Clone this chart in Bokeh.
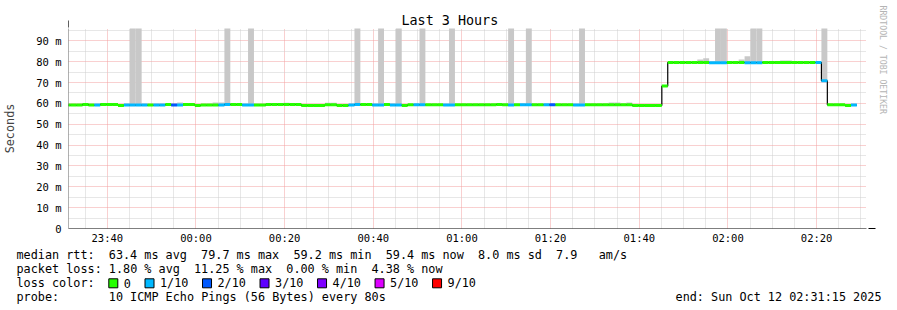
import re
import numpy as np
from bokeh.plotting import figure
from bokeh.models import Range1d, FixedTicker, ColumnDataSource, Arrow, NormalHead, Title
from bokeh.layouts import column
from bokeh.embed import file_html
from bokeh.resources import INLINE
from bokeh.core.properties import value

# ---------------- data ----------------
title_text = "Last 3 Hours"
y_axis_label = "Seconds"
window_start = "23:31:15"          # left edge of the graph
window_seconds = 10800             # 3 hours
step_seconds = 80                  # one probe round every 80 s
first_step_offset = -50            # first (partial) step starts 50 s before the left edge

x_tick_labels = ["23:40", "00:00", "00:20", "00:40", "01:00", "01:20", "01:40", "02:00", "02:20"]
y_tick_values = [0, 10, 20, 30, 40, 50, 60, 70, 80, 90]
y_tick_labels = ["0", "10 m", "20 m", "30 m", "40 m", "50 m", "60 m", "70 m", "80 m", "90 m"]

# median rtt (ms) per 80 s step
median_ms = [
    59.2, 59.2, 59.2, 59.5, 59.2, 59.2, 59.5, 59.5, 59.5, 59.0,
    59.2, 59.2, 59.2, 59.2, 59.2, 59.2, 59.2, 59.4, 59.2, 59.2,
    59.4, 59.4, 59.0, 59.2, 59.2, 59.2, 59.2, 59.5, 59.4, 59.4,
    59.2, 59.2, 59.2, 59.2, 59.5, 59.5, 59.5, 59.5, 59.5, 59.5,
    59.0, 59.0, 59.0, 59.0, 59.3, 59.3, 59.0, 59.0, 59.2, 59.4,
    59.4, 59.4, 59.2, 59.2, 59.4, 59.2, 59.2, 59.0, 59.3, 59.3,
    59.3, 59.3, 59.3, 59.3, 59.2, 59.2, 59.3, 59.3, 59.3, 59.3,
    59.3, 59.3, 59.3, 59.5, 59.3, 59.2, 59.3, 59.3, 59.3, 59.3,
    59.3, 59.3, 59.3, 59.3, 59.3, 59.3, 59.2, 59.2, 59.3, 59.3,
    59.3, 59.3, 59.3, 59.3, 59.3, 59.3, 59.0, 59.0, 59.0, 59.0,
    59.0, 68.3, 79.6, 79.6, 79.6, 79.6, 79.6, 79.6, 79.6, 79.5,
    79.5, 79.5, 79.6, 79.6, 79.6, 79.5, 79.5, 79.5, 79.6, 79.6,
    79.6, 79.6, 79.6, 79.6, 79.6, 79.6, 79.6, 79.6, 70.8, 59.3,
    59.3, 59.3, 59.0, 59.2,
]
# lost pings (out of 10) per step
loss_tenths = [
    0, 0, 0, 0, 0, 1, 0, 0, 0, 0,
    1, 1, 1, 1, 0, 1, 1, 0, 2, 1,
    0, 0, 0, 0, 0, 0, 1, 1, 0, 0,
    1, 1, 0, 0, 0, 0, 0, 0, 0, 0,
    0, 0, 0, 0, 0, 0, 0, 0, 1, 1,
    0, 0, 1, 1, 0, 1, 1, 0, 0, 1,
    1, 0, 0, 0, 1, 1, 0, 0, 0, 0,
    0, 0, 0, 0, 0, 1, 0, 1, 1, 0,
    0, 1, 2, 0, 0, 0, 1, 1, 0, 0,
    0, 0, 0, 0, 0, 0, 0, 0, 0, 0,
    0, 0, 0, 0, 0, 0, 0, 0, 0, 1,
    1, 1, 0, 0, 0, 1, 1, 1, 0, 0,
    0, 0, 0, 0, 0, 0, 0, 1, 1, 0,
    0, 0, 0, 1,
]
# smoke (ping spread): step index (into the arrays above) and highest ping (ms)
smoke_step = [11, 12, 27, 31, 49, 53, 56, 60, 65, 75, 78, 87, 110, 111, 116, 117, 128,
              19, 25, 26, 37, 44, 45, 92, 93, 95, 107, 108, 114, 115, 121, 122]
smoke_top_ms = [120, 120, 120, 120, 120, 120, 120, 120, 120, 120, 120, 120, 120, 120, 120, 120, 120,
                60.4, 60.4, 60.4, 60.3, 60.3, 60.3, 60.4, 60.4, 60.4, 81.0, 81.6, 81.0, 82.6, 80.5, 80.5]

loss_levels = ["0", "1/10", "2/10", "3/10", "4/10", "5/10", "9/10"]
loss_level_tenths = [0, 1, 2, 3, 4, 5, 9]
loss_colors = ["#26ff00", "#00b8ff", "#0059ff", "#5e00ff", "#7e00ff", "#dd00ff", "#ff0000"]

stats_rtt = "median rtt:  63.4 ms avg  79.7 ms max  59.2 ms min  59.4 ms now  8.0 ms sd  7.9   am/s"
stats_loss = "packet loss: 1.80 % avg  11.25 % max  0.00 % min  4.38 % now"
loss_title = "loss color:"
probe_text = "probe:       10 ICMP Echo Pings (56 Bytes) every 80s"
end_text = "end: Sun Oct 12 02:31:15 2025"
credit_text = "RRDTOOL / TOBI OETIKER"

# ---------------- helpers ----------------
MONO = "DejaVu Sans Mono"
W, H_MAIN, H_LEG = 897, 248, 62
FL, FR, FT, FB = 67, 868, 28, 228   # frame edges in canvas px


def clock_to_offset(lbl):
    parts = [int(v) for v in lbl.split(":")]
    while len(parts) < 3:
        parts.append(0)
    s0 = [int(v) for v in window_start.split(":")]
    s = (parts[0] * 3600 + parts[1] * 60 + parts[2]) - (s0[0] * 3600 + s0[1] * 60 + s0[2])
    return s + 86400 if s < 0 else s


def scr(cx, cy):
    """canvas px -> screen units relative to the main frame"""
    return cx - FL, FB - cy


def chunks(line):
    """split a monospace line into (column, text) pieces at runs of 2+ spaces"""
    return [(m.start(), m.group()) for m in re.finditer(r"\S+(?: \S+)*", line)]


n = len(median_ms)
starts = first_step_offset + step_seconds * np.arange(n)
ends = starts + step_seconds
color_of = dict(zip(loss_level_tenths, loss_colors))
seg_colors = [color_of[v] for v in loss_tenths]

# ---------------- main figure ----------------
p = figure(width=W, height=H_MAIN, x_range=Range1d(0, window_seconds), y_range=Range1d(0, 95.9),
           output_backend="svg", toolbar_location=None,
           min_border_left=FL, min_border_right=W - FR, min_border_top=FT, min_border_bottom=H_MAIN - FB)
p.frame_align = False
p.outline_line_color = None
p.background_fill_color = "white"
p.border_fill_color = "white"

p.title.text = title_text
p.title.align = "left"
p.title.offset = 400 - FL
p.title.standoff = 1
p.title.text_font = MONO
p.title.text_font_size = "13.4px"
p.title.text_font_style = "normal"
p.title.text_color = "black"

p.add_layout(Title(text=credit_text, align="left", offset=-23, standoff=19, vertical_align="top",
                   text_font=MONO, text_font_size="8.2px", text_font_style="normal",
                   text_color="#b4b4b4"), "right")

x_major = [clock_to_offset(l) for l in x_tick_labels]
x_minor = [t for t in range(clock_to_offset("23:35"), window_seconds + 1, 300) if t not in x_major]
p.xaxis.ticker = FixedTicker(ticks=x_major, minor_ticks=x_minor)
p.xaxis.major_label_overrides = dict(zip(x_major, x_tick_labels))
p.yaxis.ticker = FixedTicker(ticks=y_tick_values, minor_ticks=[v + 5 for v in y_tick_values])
p.yaxis.major_label_overrides = dict(zip(y_tick_values, y_tick_labels))

for ax in (p.xaxis[0], p.yaxis[0]):
    ax.axis_line_color = None
    ax.major_tick_line_color = None
    ax.minor_tick_line_color = None
    ax.major_tick_out = 0
    ax.major_tick_in = 0
    ax.minor_tick_out = 0
    ax.minor_tick_in = 0
    ax.major_label_text_font = MONO
    ax.major_label_text_font_size = "10.5px"
    ax.major_label_text_color = "black"
p.xaxis.major_label_standoff = 3
p.yaxis.major_label_standoff = 7
p.yaxis.axis_label = y_axis_label
p.yaxis.axis_label_text_font = MONO
p.yaxis.axis_label_text_font_style = "normal"
p.yaxis.axis_label_text_font_size = "11.8px"
p.yaxis.axis_label_standoff = 16

for g in (p.xgrid[0], p.ygrid[0]):
    g.grid_line_color = "#f2a0a0"
    g.grid_line_dash = "1 1"
    g.grid_line_width = 1
    g.minor_grid_line_color = "#cfcfcf"
    g.minor_grid_line_dash = "1 1"
    g.minor_grid_line_width = 1

# smoke
sm_idx = np.array(smoke_step)
smoke_src = ColumnDataSource(dict(left=starts[sm_idx], right=ends[sm_idx],
                                  bottom=np.array(median_ms)[sm_idx], top=smoke_top_ms))
p.quad(left="left", right="right", bottom="bottom", top="top", source=smoke_src,
       fill_color="#c8c8c8", line_color=None)

# thin black median step line
step_x = list(starts) + [ends[-1]]
step_y = list(median_ms) + [median_ms[-1]]
p.step(x=step_x, y=step_y, mode="after", line_color="black", line_width=1.2)

# loss-coloured median
med_src = ColumnDataSource(dict(x0=starts, x1=ends, y=median_ms, c=seg_colors))
p.segment(x0="x0", x1="x1", y0="y", y1="y", source=med_src, line_color="c",
          line_width=3, line_cap="butt")

# axis lines with arrows
ax_x0 = scr(62, 228)
ax_x1 = scr(874, 228)
p.add_layout(Arrow(x_start=ax_x0[0], y_start=ax_x0[1], x_end=ax_x1[0], y_end=ax_x1[1],
                   start_units="screen", end_units="screen", line_color="black", line_width=1,
                   end=NormalHead(size=7, fill_color="#8b1a1a", line_color="#8b1a1a")))
ay0 = scr(67, 232)
ay1 = scr(67, 20)
p.add_layout(Arrow(x_start=ay0[0], y_start=ay0[1], x_end=ay1[0], y_end=ay1[1],
                   start_units="screen", end_units="screen", line_color="#606060", line_width=1,
                   end=NormalHead(size=7, fill_color="#8b1a1a", line_color="#8b1a1a")))

# ---------------- legend strip ----------------
lg = figure(width=W, height=H_LEG, x_range=Range1d(0, W), y_range=Range1d(H_MAIN + H_LEG, H_MAIN),
            output_backend="svg", toolbar_location=None, x_axis_type=None, y_axis_type=None,
            min_border_left=0, min_border_right=0, min_border_top=0, min_border_bottom=0)
lg.frame_align = False
lg.outline_line_color = None
lg.grid.visible = False
lg.background_fill_color = "white"
lg.border_fill_color = "white"

CH = 7.1
X0 = 16
line_y = [254.3, 268.3, 282.7, 296.3]
tx, ty, tt = [], [], []
for ln, yy in zip([stats_rtt, stats_loss, loss_title, probe_text], line_y):
    for col, txt in chunks(ln):
        tx.append(X0 + col * CH)
        ty.append(yy)
        tt.append(txt)
lg.text(x=tx, y=ty, text=tt, text_font=value(MONO), text_font_size="11.8px",
        text_baseline="middle", text_align="left", text_color="black")
lg.text(x=[881], y=[line_y[3]], text=[end_text], text_font=value(MONO), text_font_size="11.8px",
        text_baseline="middle", text_align="right", text_color="black")

box_left = []
xpos = X0 + 13 * CH
for lab in loss_levels:
    box_left.append(xpos)
    xpos += (len(lab) + 4.1) * CH
box_left = np.array(box_left)
lg.rect(x=box_left + 4.5, y=[282.8] * len(loss_levels), width=9, height=9,
        fill_color=loss_colors, line_color="black", line_width=1)
lg.text(x=box_left + 15, y=[line_y[2]] * len(loss_levels), text=loss_levels,
        text_font=value(MONO), text_font_size="11.8px", text_baseline="middle",
        text_align="left", text_color="black")

layout = column(p, lg, spacing=0)
open("out.html", "w").write(file_html(layout, INLINE))
